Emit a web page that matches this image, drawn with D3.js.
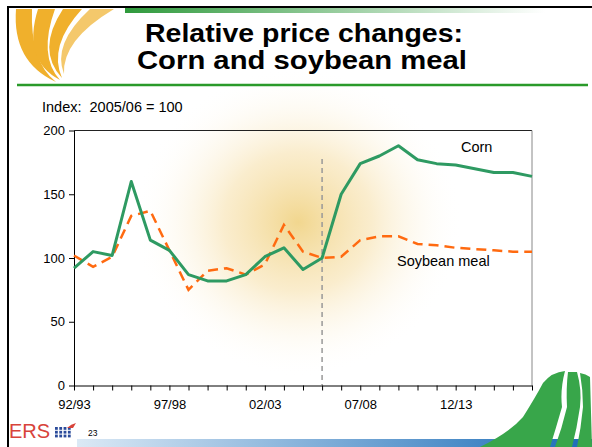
<!DOCTYPE html>
<html>
<head>
<meta charset="utf-8">
<script src="https://cdn.jsdelivr.net/npm/d3@7"></script>
<style>
  body { margin: 0; background: #fff; }
  svg { display: block; font-family: "Liberation Sans", Arial, sans-serif; }
</style>
</head>
<body>
<svg width="592" height="447"></svg>
<script>
// marketing years 1992/93 .. 2016/17
const years = ["92/93","93/94","94/95","95/96","96/97","97/98","98/99","99/00","00/01","01/02",
  "02/03","03/04","04/05","05/06","06/07","07/08","08/09","09/10","10/11","11/12",
  "12/13","13/14","14/15","15/16","16/17"];
const labelYears = ["92/93", "97/98", "02/03", "07/08", "12/13"];
const corn = [92,105,102,160,114,106,87,82,82,87,101,108,91,100,150,174,180,188,177,174,173,170,167,167,164];
const soymeal = [102,93,101,133,137,106,75,90,92,87,95,126,105,100,101,114,117,117,111,110,108,107,106,105,105];
const yTicks = [0, 50, 100, 150, 200];
const baseYear = "05/06";

const svg = d3.select("svg");
const defs = svg.append("defs");

// glow in the background
const glow = defs.append("radialGradient").attr("id", "glow");
glow.append("stop").attr("offset", "0%").attr("stop-color", "rgb(240,210,130)").attr("stop-opacity", 0.9);
glow.append("stop").attr("offset", "45%").attr("stop-color", "rgb(246,222,165)").attr("stop-opacity", 0.55);
glow.append("stop").attr("offset", "100%").attr("stop-color", "#fff").attr("stop-opacity", 0);

const topBar = defs.append("linearGradient").attr("id", "topbar");
topBar.append("stop").attr("offset", "0%").attr("stop-color", "#2f9a3c");
topBar.append("stop").attr("offset", "100%").attr("stop-color", "#fff");

const blueBar = defs.append("linearGradient").attr("id", "bluebar");
blueBar.append("stop").attr("offset", "0%").attr("stop-color", "#dbe9f5");
blueBar.append("stop").attr("offset", "100%").attr("stop-color", "#1a6cb8");

svg.append("ellipse")
  .attr("cx", 298).attr("cy", 222).attr("rx", 165).attr("ry", 155)
  .attr("fill", "url(#glow)");

// slide decoration
svg.append("rect").attr("x", 125).attr("y", 8).attr("width", 420).attr("height", 5).attr("fill", "url(#topbar)");
svg.append("line").attr("x1", 7).attr("x2", 592).attr("y1", 7).attr("y2", 7).attr("stroke", "#000").attr("stroke-width", 2);
svg.append("line").attr("x1", 8).attr("x2", 8).attr("y1", 6).attr("y2", 447).attr("stroke", "#000").attr("stroke-width", 2);

const blades = svg.append("g").attr("fill", "#f0b02c");
blades.append("path").attr("d", "M16,9 Q12,62 56,82 Q30,62 32,9 Z");
blades.append("path").attr("d", "M38,9 Q22,60 60,80 Q38,56 55,9 Z");
blades.append("path").attr("d", "M63,9 Q36,50 62,78 Q48,46 82,9 Z");
blades.append("path").attr("d", "M90,9 Q52,44 64,74 Q62,40 114,9 Z").attr("opacity", 0.7);

svg.append("line").attr("x1", 17).attr("x2", 588).attr("y1", 85).attr("y2", 85)
  .attr("stroke", "#2a9a2a").attr("stroke-width", 2.5);

svg.append("text").attr("x", 145).attr("y", 41.5)
  .attr("font-size", 26).attr("font-weight", "bold")
  .attr("textLength", 318).attr("lengthAdjust", "spacingAndGlyphs")
  .text("Relative price changes:");
svg.append("text").attr("x", 137).attr("y", 68.5)
  .attr("font-size", 26).attr("font-weight", "bold")
  .attr("textLength", 330).attr("lengthAdjust", "spacingAndGlyphs")
  .text("Corn and soybean meal");

svg.append("text").attr("x", 42).attr("y", 112).attr("font-size", 14.5)
  .style("white-space", "pre").text("Index:  2005/06 = 100");

// bottom bar + logo
svg.append("rect").attr("x", 77).attr("y", 439).attr("width", 515).attr("height", 8).attr("fill", "url(#bluebar)");
svg.append("text").attr("x", 9).attr("y", 438).attr("font-size", 20).attr("fill", "#d8433a").text("ERS");
const dots = svg.append("g").attr("fill", "#2a4a9a");
for (let r = 0; r < 3; r++) for (let c = 0; c < 4; c++) {
  dots.append("rect").attr("x", 55 + c * 4.3).attr("y", 427 + r * 3.8).attr("width", 2.8).attr("height", 2.8);
}
svg.append("path").attr("d", "M67,428 Q71,424 76,423 L73,428 Z").attr("fill", "#d8433a");
svg.append("text").attr("x", 88).attr("y", 436).attr("font-size", 8.5).text("23");

const green = svg.append("g").attr("fill", "#38a64a");
green.append("path").attr("d", "M480,447 Q510,432 523,417 Q535,398 543,383 Q552,372 565,371 Q560,390 562,407 Q556,428 550,447 Z");
green.append("path").attr("d", "M555,447 Q562,428 567,407 Q566,388 568,372 L577,372 Q582,390 580,407 Q577,428 572,447 Z");
green.append("path").attr("d", "M577,447 Q581,428 583,407 Q583,390 580,373 Q586,374 590,377 L592,447 Z");

// chart
const x = d3.scalePoint().domain(years).range([74, 532]);
const y = d3.scaleLinear().domain([0, 200]).range([385.5, 130.5]);

svg.append("line")
  .attr("x1", x(baseYear)).attr("x2", x(baseYear)).attr("y1", 159).attr("y2", 385)
  .attr("stroke", "#999").attr("stroke-width", 1.5).attr("stroke-dasharray", "5,4");

svg.append("line").attr("x1", 74).attr("x2", 532).attr("y1", y(200)).attr("y2", y(200)).attr("stroke", "#222");
svg.append("line").attr("x1", 532).attr("x2", 532).attr("y1", y(200)).attr("y2", y(0)).attr("stroke", "#888");

const xAxis = svg.append("g").attr("transform", `translate(0,${y(0)})`)
  .call(d3.axisBottom(x).tickSize(5).tickSizeOuter(0).tickPadding(4)
    .tickFormat(d => labelYears.includes(d) ? d : ""));
const yAxis = svg.append("g").attr("transform", "translate(74,0)")
  .call(d3.axisLeft(y).tickValues(yTicks).tickSize(5).tickSizeOuter(0).tickPadding(4));
[xAxis, yAxis].forEach(a => {
  a.selectAll("text").attr("font-size", 13).attr("fill", "#000").attr("font-family", null);
  a.selectAll("line, path").attr("stroke", "#000");
});
xAxis.selectAll("text").attr("dy", "1.1em");

const line = d3.line().x((d, i) => x(years[i])).y(d => y(d));

svg.append("path").datum(soymeal).attr("d", line)
  .attr("fill", "none").attr("stroke", "#ff6a10").attr("stroke-width", 2.5)
  .attr("stroke-dasharray", "10,6");
svg.append("path").datum(corn).attr("d", line)
  .attr("fill", "none").attr("stroke", "#2e9a62").attr("stroke-width", 3)
  .attr("stroke-linejoin", "round");

svg.append("text").attr("x", 461).attr("y", 152).attr("font-size", 14.5).text("Corn");
svg.append("text").attr("x", 397).attr("y", 266).attr("font-size", 14.5).text("Soybean meal");
</script>
</body>
</html>
